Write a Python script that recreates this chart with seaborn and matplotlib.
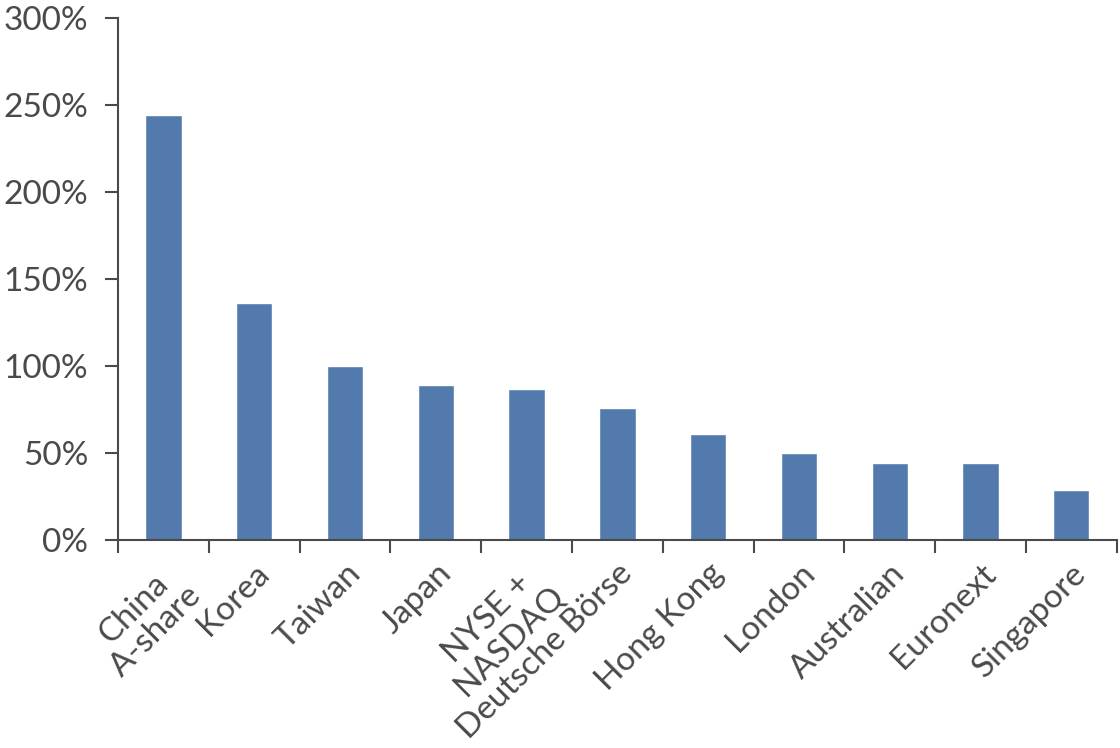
import matplotlib
matplotlib.use("Agg")
import matplotlib.pyplot as plt
import seaborn as sns
import pandas as pd
from matplotlib.ticker import FixedLocator, PercentFormatter

# turnover ratio by exchange
markets = ["China\nA-share", "Korea", "Taiwan", "Japan", "NYSE +\nNASDAQ",
           "Deutsche Börse", "Hong Kong", "London", "Australian", "Euronext",
           "Singapore"]
turnover = [244, 136, 100, 89, 87, 76, 61, 50, 44, 44, 29]
yticks = [0, 50, 100, 150, 200, 250, 300]

df = pd.DataFrame({"market": markets, "turnover": turnover})

sns.set_style("white")
plt.rcParams["font.family"] = ["Lato", "DejaVu Sans"]
txt = "#4a4a4a"

fig = plt.figure(figsize=(11.2, 7.48), dpi=100)
ax = fig.add_axes([0.1054, 0.278, 0.8916, 0.698])
sns.barplot(data=df, x="market", y="turnover", color="#527aad",
            saturation=1, width=0.4, ax=ax)

ax.set_ylim(0, 300)
ax.set_xlim(-0.5, len(markets) - 0.5)
ax.set_yticks(yticks)
ax.yaxis.set_major_formatter(PercentFormatter(decimals=0))
ax.tick_params(axis="y", direction="out", length=9.5, width=1.5, color=txt,
               labelsize=24, labelcolor=txt, pad=12, left=True)
ax.tick_params(axis="x", which="major", length=0, labelsize=24,
               labelcolor=txt, pad=13)
ax.xaxis.set_minor_locator(FixedLocator([i - 0.5 for i in range(len(markets) + 1)]))
ax.tick_params(axis="x", which="minor", direction="out", length=9,
               width=1.5, color=txt, bottom=True)
for lab in ax.get_xticklabels():
    lab.set_rotation(45)
    lab.set_ha("right")
    lab.set_va("top")
    lab.set_rotation_mode("anchor")
    lab.set_multialignment("center")
    lab.set_linespacing(1.05)

ax.set_xlabel("")
ax.set_ylabel("")
sns.despine(ax=ax, top=True, right=True)
ax.spines["left"].set_color(txt)
ax.spines["bottom"].set_color(txt)
ax.spines["left"].set_linewidth(1.5)
ax.spines["bottom"].set_linewidth(1.5)

fig.savefig("out.png", dpi=100)
